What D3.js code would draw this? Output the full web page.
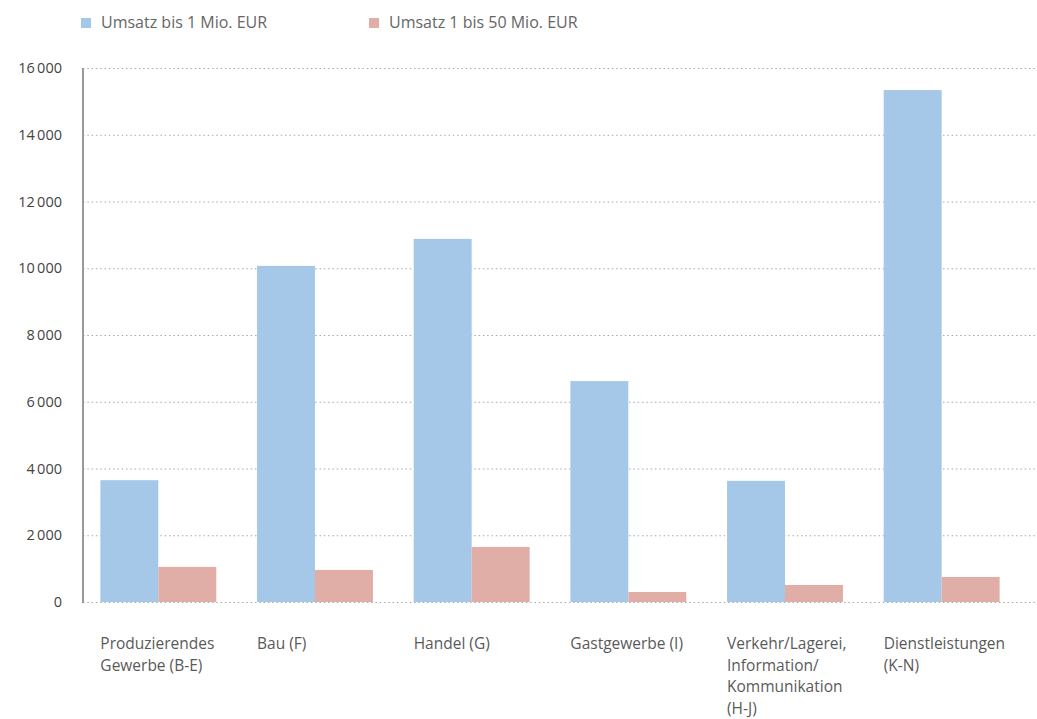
<!DOCTYPE html>
<html>
<head>
<meta charset="utf-8">
<script src="https://cdn.jsdelivr.net/npm/d3@7"></script>
<style>
  html, body { margin: 0; padding: 0; background: #fff; }
  svg { display: block; font-family: "Open Sans", sans-serif; }
</style>
</head>
<body>
<svg id="chart" width="1037" height="719"></svg>
<script>
// Categories (economic sectors), each label split into lines
const categories = [
  ["Produzierendes", "Gewerbe (B-E)"],
  ["Bau (F)"],
  ["Handel (G)"],
  ["Gastgewerbe (I)"],
  ["Verkehr/Lagerei,", "Information/", "Kommunikation", "(H-J)"],
  ["Dienstleistungen", "(K-N)"]
];
const seriesNames = ["Umsatz bis 1 Mio. EUR", "Umsatz 1 bis 50 Mio. EUR"];
const smallTurnover = [3650, 10070, 10880, 6620, 3630, 15340];
const mediumTurnover = [1050, 960, 1650, 300, 510, 750];
const yTicks = [0, 2000, 4000, 6000, 8000, 10000, 12000, 14000, 16000];
const colors = ["#a6c8e8", "#e0aea6"];

const svg = d3.select("#chart");
const keys = categories.map(c => c.join(" "));
const rows = keys.map((k, i) => ({ key: k, values: [smallTurnover[i], mediumTurnover[i]] }));

const x = d3.scaleBand().domain(keys).range([80, 1020]).paddingInner(0.26).paddingOuter(0.13);
const xs = d3.scaleBand().domain([0, 1]).range([0, x.bandwidth()]);
const y = d3.scaleLinear().domain([0, 16000]).range([602, 68]);

// Dotted gridlines
svg.append("g").selectAll("line").data(yTicks).join("line")
  .attr("x1", 83).attr("x2", 1037)
  .attr("y1", d => y(d) + 0.5).attr("y2", d => y(d) + 0.5)
  .attr("stroke", "#a8a8a8").attr("stroke-width", 1)
  .attr("stroke-dasharray", "1.5,2.8");

// Y tick labels with thin space as thousands separator
const fmt = d => d === 0 ? "0" : d3.format(",")(d).replace(/,/g, "\u2009");
svg.append("g").selectAll("text").data(yTicks).join("text")
  .attr("x", 62).attr("y", d => y(d)).attr("dy", "0.35em")
  .attr("text-anchor", "end")
  .attr("font-size", 14.5).attr("font-weight", 500).attr("fill", "#444")
  .text(fmt);

// Bars
const groups = svg.append("g").selectAll("g").data(rows).join("g")
  .attr("transform", d => `translate(${x(d.key)},0)`);
groups.selectAll("rect").data(d => d.values.map((v, i) => ({ v, i }))).join("rect")
  .attr("x", d => xs(d.i)).attr("width", xs.bandwidth())
  .attr("y", d => y(d.v)).attr("height", d => y(0) - y(d.v))
  .attr("fill", d => colors[d.i]);

// Vertical axis line
svg.append("line")
  .attr("x1", 83).attr("x2", 83).attr("y1", y(16000)).attr("y2", y(0) + 1)
  .attr("stroke", "#999").attr("stroke-width", 2);

// Category labels
const lab = svg.append("g").selectAll("text").data(categories).join("text")
  .attr("x", (d, i) => x(keys[i]))
  .attr("y", 649)
  .attr("font-size", 15.5).attr("fill", "#5a5a5a");
lab.selectAll("tspan").data(d => d).join("tspan")
  .attr("x", function () { return this.parentNode.getAttribute("x"); })
  .attr("dy", (d, i) => i === 0 ? 0 : 21.5)
  .text(d => d);

// Legend
const legendX = [81, 369];
const lg = svg.append("g").selectAll("g").data(seriesNames).join("g")
  .attr("transform", (d, i) => `translate(${legendX[i]},0)`);
lg.append("rect").attr("x", 0).attr("y", 18).attr("width", 10).attr("height", 10)
  .attr("fill", (d, i) => colors[i]);
lg.append("text").attr("x", 20).attr("y", 27.5)
  .attr("font-size", 16).attr("fill", "#666").text(d => d);
</script>
</body>
</html>
